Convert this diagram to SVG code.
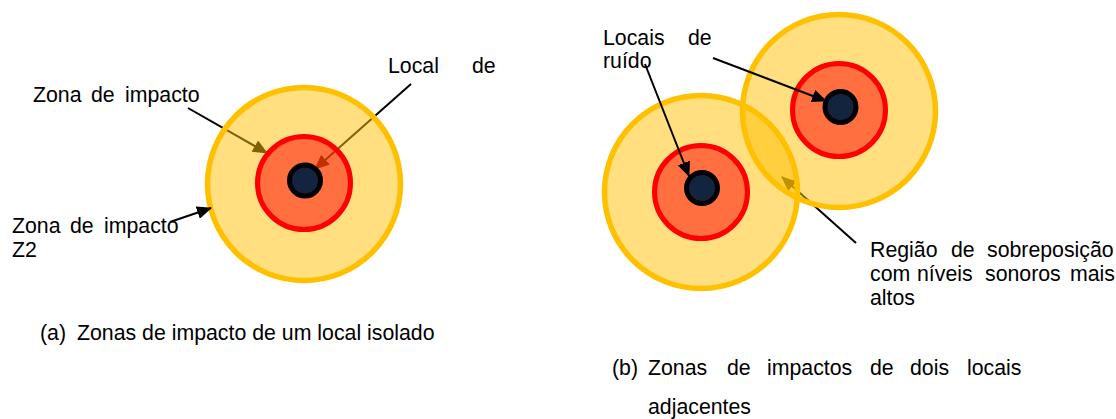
<svg xmlns="http://www.w3.org/2000/svg" width="1116" height="419" viewBox="0 0 1116 419">
<style>
text{font-family:"Liberation Sans",Arial,sans-serif;font-size:21.3px;fill:#000}
.zone2{fill:rgba(255,192,0,0.5);stroke:#FFC000;stroke-width:5.5}
.zone1{fill:rgba(255,0,0,0.5);stroke:#FF0000;stroke-width:5}
.src{fill:#13243F;stroke:#000;stroke-width:5}
.conn{stroke:#000;stroke-width:2;fill:none;marker-end:url(#ah)}
</style>
<defs>
<marker id="ah" markerUnits="userSpaceOnUse" markerWidth="15" markerHeight="13" refX="14" refY="6.5" orient="auto">
<path d="M0,0 L15,6.5 L0,13 z" fill="#000"/>
</marker>
</defs>
<rect width="1116" height="419" fill="#fff"/>
<g id="connectors-behind">
<line class="conn" x1="188" y1="108" x2="267" y2="153"/>
<line class="conn" x1="411" y1="84" x2="315" y2="169"/>
<line class="conn" x1="856" y1="243" x2="782" y2="177"/>
</g>
<g id="site-a">
<circle class="zone2" cx="304" cy="184" r="96.5"/>
<circle class="zone1" cx="304" cy="183" r="46.5"/>
<circle class="src" cx="305" cy="180.5" r="15.5"/>
</g>
<g id="site-b1">
<circle class="zone2" cx="701" cy="192" r="96.5"/>
<circle class="zone1" cx="701" cy="192" r="46.5"/>
<circle class="src" cx="702" cy="188" r="15.5"/>
</g>
<g id="site-b2">
<circle class="zone2" cx="839" cy="111" r="96.5"/>
<circle class="zone1" cx="839" cy="110" r="46.5"/>
<circle class="src" cx="840.5" cy="107" r="15.5"/>
</g>
<g id="connectors-front">
<line class="conn" x1="170" y1="222" x2="211" y2="208"/>
<line class="conn" x1="645" y1="64" x2="689" y2="176"/>
<line class="conn" x1="713" y1="58" x2="826" y2="101"/>
</g>
<g id="label-zona1">
<text x="33" y="102">Zona</text><text x="91" y="102">de</text><text x="125" y="102">impacto</text>
</g>
<g id="label-local">
<text x="388" y="73">Local</text><text x="472" y="73">de</text>
</g>
<g id="label-zona2">
<text x="12" y="233">Zona</text><text x="70" y="233">de</text><text x="104" y="233">impacto</text>
<text x="12" y="257">Z2</text>
</g>
<g id="caption-a">
<text x="40" y="340">(a)</text><text x="77" y="340">Zonas de impacto de um local isolado</text>
</g>
<g id="label-locais">
<text x="603" y="45">Locais</text><text x="688" y="45">de</text>
<text x="603" y="68">ruído</text>
</g>
<g id="label-regiao">
<text x="870" y="257">Região</text><text x="951" y="257">de</text><text x="987" y="257">sobreposição</text>
<text x="870" y="281">com</text><text x="917" y="281">níveis</text><text x="985" y="281">sonoros</text><text x="1070" y="281">mais</text>
<text x="870" y="305">altos</text>
</g>
<g id="caption-b">
<text x="612" y="375">(b)</text><text x="648" y="375">Zonas</text><text x="727" y="375">de</text><text x="767" y="375">impactos</text><text x="870" y="375">de</text><text x="910" y="375">dois</text><text x="967" y="375">locais</text>
<text x="648" y="414">adjacentes</text>
</g>
</svg>
